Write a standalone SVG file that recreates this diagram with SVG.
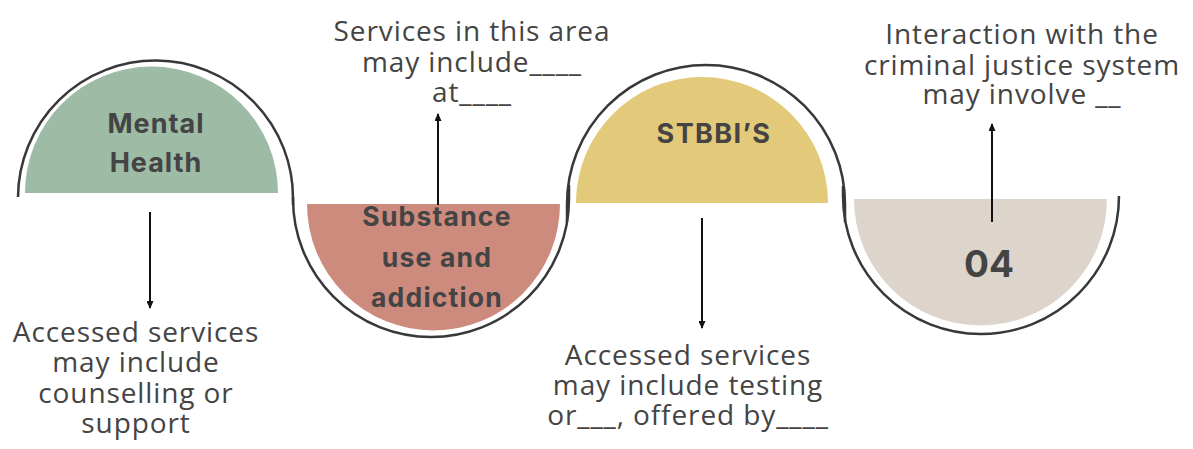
<svg xmlns="http://www.w3.org/2000/svg" width="1193" height="449" viewBox="0 0 1193 449">
  <style>
    .outline { fill: none; stroke: #383838; stroke-width: 2.5; }
    .label { font-family: Inter, "Liberation Sans", sans-serif; font-weight: 700; fill: #444444; text-anchor: middle; }
    .note { font-family: "Open Sans", "Noto Sans", sans-serif; font-size: 28px; letter-spacing: 0.9px; fill: #444444; text-anchor: middle; }
    .conn { stroke: #111111; stroke-width: 2; fill: none; marker-end: url(#arrow); }
  </style>
  <defs>
    <marker id="arrow" viewBox="0 0 8 7" refX="7" refY="3.5" markerWidth="8" markerHeight="7" markerUnits="userSpaceOnUse" orient="auto">
      <path d="M0,0 L8,3.5 L0,7 z" fill="#111111"/>
    </marker>
  </defs>
  <rect width="1193" height="449" fill="#ffffff"/>

  <g id="node-mental-health">
    <path d="M25,193 A126.5,126.5 0 0 1 278,193 Z" fill="#9dbba5"/>
    <path class="outline" d="M18,197 A137.5,137.5 0 0 1 293,199 L293,205"/>
    <text class="label" font-size="27" letter-spacing="1" x="156" y="133">Mental</text>
    <text class="label" font-size="27" letter-spacing="1" x="156" y="172">Health</text>
  </g>

  <g id="node-substance">
    <path d="M307,204 A126.5,126.5 0 0 0 560,204 Z" fill="#cd8b7e"/>
    <path class="outline" d="M293,197 L293,199 A138,138 0 0 0 569,199 L569,185"/>
    <text class="label" font-size="26.5" letter-spacing="1.2" x="437" y="226">Substance</text>
    <text class="label" font-size="26.5" letter-spacing="1.2" x="437" y="267">use and</text>
    <text class="label" font-size="26.5" letter-spacing="1.2" x="437" y="307">addiction</text>
  </g>

  <g id="node-stbbis">
    <path d="M576,203 A126,126 0 0 1 828,203 Z" fill="#e3c97a"/>
    <path class="outline" d="M567,222 L567,204 A139,139 0 0 1 845,204 L845,222"/>
    <text class="label" font-size="27" letter-spacing="1.4" x="714" y="143">STBBI’S</text>
  </g>

  <g id="node-04">
    <path d="M854,199 A126.5,126.5 0 0 0 1107,199 Z" fill="#ddd4cb"/>
    <path class="outline" d="M843,186 L843,196 A138,138 0 0 0 1119,196"/>
    <text class="label" font-size="37" x="989" y="277">04</text>
  </g>

  <g id="connectors">
    <line class="conn" x1="150" y1="212" x2="150" y2="308"/>
    <line class="conn" x1="438" y1="205" x2="438" y2="114"/>
    <line class="conn" x1="702" y1="218" x2="702" y2="328"/>
    <line class="conn" x1="992" y1="222" x2="992" y2="124"/>
  </g>

  <g id="note-mental-health">
    <text class="note" x="136" y="342">Accessed services</text>
    <text class="note" x="136" y="372">may include</text>
    <text class="note" x="136" y="403">counselling or</text>
    <text class="note" x="136" y="433">support</text>
  </g>

  <g id="note-substance">
    <text class="note" x="472" y="41">Services in this area</text>
    <text class="note" x="472" y="72">may include____</text>
    <text class="note" x="472" y="102">at____</text>
  </g>

  <g id="note-stbbis">
    <text class="note" x="688" y="365">Accessed services</text>
    <text class="note" x="688" y="395">may include testing</text>
    <text class="note" x="688" y="425">or___, offered by____</text>
  </g>

  <g id="note-04">
    <text class="note" x="1022" y="44">Interaction with the</text>
    <text class="note" x="1022" y="75">criminal justice system</text>
    <text class="note" x="1022" y="104">may involve __</text>
  </g>
</svg>
